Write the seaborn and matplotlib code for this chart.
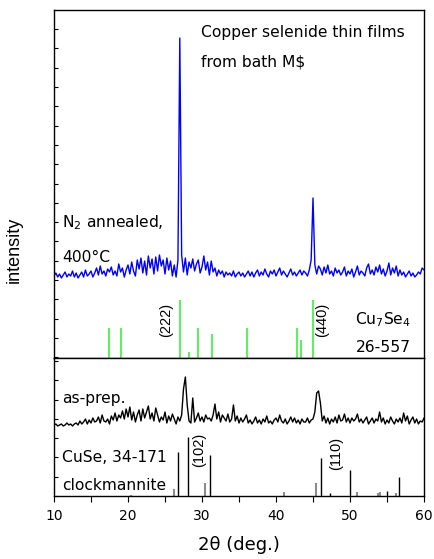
import numpy as np
import pandas as pd
import matplotlib
matplotlib.use("Agg")
import matplotlib.pyplot as plt
from matplotlib.ticker import MultipleLocator
import seaborn as sns

sns.set_style("white")
plt.rcParams['font.family'] = ['DejaVu Sans']
plt.rcParams['mathtext.fontset'] = 'dejavusans'
plt.rcParams['text.color'] = 'black'
plt.rcParams['axes.labelcolor'] = 'black'
plt.rcParams['xtick.color'] = 'black'
plt.rcParams['ytick.color'] = 'black'

# ---- data ----
two_theta = np.arange(10.0, 60.001, 0.25)

annealed = [
    4, 7, 3, 6,   2, 5, 8, 3,   6, 4, 9, 3,   7, 2, 5, 8,   3, 10, 4, 6,
    9, 3, 7, 12,  5, 14, 6, 9,  4, 11, 8, 13, 5, 9, 4, 16,  8, 12, 3, 10,
    15, 6, 18, 9, 4, 20, 11, 22, 7, 19, 5, 24, 12, 21, 6, 23, 9, 25, 14, 20,
    6, 22, 10, 19, 4, 15, 3, 20, 242, 25, 8, 22, 5, 18, 12, 21, 9, 16, 20, 7,
    13, 24, 10, 18, 5, 19, 8, 12, 4, 10, 6, 9, 3, 8, 5, 7, 4, 9, 3, 6,
    8, 4, 7, 3,   6, 9, 4, 8,   3, 7, 10, 4,  8, 5, 11, 6,  3, 9, 6, 10,
    4, 8, 12, 5,  9, 6, 3, 7,   11, 5, 8, 4,  7, 10, 5, 9,  7, 4, 10, 20,
    82, 15, 6, 14, 11, 5, 13, 7, 15, 6, 9, 4, 12, 7, 10, 5, 8, 13, 4, 9,
    6, 11, 3, 8,  14, 5, 9, 7,  4, 12, 16, 6, 10, 5, 13, 8, 15, 6, 11, 4,
    9, 17, 5, 12, 7, 14, 4, 10, 5, 8, 3, 6,  9, 4, 7, 3,   5, 8, 6, 12, 10,
]

as_prep = [
    2, 3, 1, 2,   3, 1, 2, 4,   2, 3, 1, 3,   4, 2, 6, 3,   5, 8, 3, 7,
    4, 9, 5, 6,   10, 4, 12, 6, 5, 8, 3, 11,  7, 14, 6, 12, 9, 16, 8, 18,
    10, 20, 7, 15, 5, 12, 17, 6, 18, 9, 15, 21, 8, 14, 6, 19, 12, 5, 10, 7,
    15, 4, 11, 6, 13, 8, 3, 10, 6, 12, 38, 50, 22, 6, 4, 29, 5, 9, 14, 6,
    10, 5, 12, 8, 9, 6, 12, 23, 8, 15, 5, 12, 9, 6, 13, 5, 8, 22, 6, 11,
    4, 9, 5, 8,   12, 4, 7, 3,  6, 10, 4, 7,  3, 8, 5, 11,  4, 6, 3, 7,
    9, 5, 12, 6,  4, 8, 3, 6,   10, 5, 9, 4,  7, 3, 8, 5,   5, 9, 4, 7,
    8, 15, 34, 36, 24, 6, 11, 4, 9, 3, 8, 5,  10, 4, 12, 6, 7, 13, 5, 9,
    4, 9, 6, 8,   13, 5, 8, 4,  7, 10, 3, 6,  9, 4, 8, 6,   15, 5, 9, 3,
    7, 4, 10, 6,  3, 8, 5, 9,   4, 14, 6, 11, 3, 7, 10, 4,  8, 3, 6, 5, 9,
]

cu7se4_pos = [17.47, 19.1, 27.05, 28.3, 29.4, 31.4, 36.1, 42.8, 43.4, 45.0]
cu7se4_int = [30, 30, 58, 6, 30, 24, 30, 30, 18, 58]

cuse_pos_strong = [26.7, 28.15, 31.05, 46.05, 50.0, 54.95, 56.6, 47.35]
cuse_int_strong = [44, 59, 41, 38, 26, 5, 19, 3]
cuse_pos_weak = [20.45, 26.15, 30.45, 41.07, 45.35, 50.96, 53.85, 54.05, 56.2]
cuse_int_weak = [1, 7, 13, 4, 13, 4, 3, 4, 3]

df = pd.DataFrame({"two_theta": two_theta,
                   "annealed": annealed,
                   "as_prep": as_prep})

# ---- figure ----
fig = plt.figure(figsize=(4.35, 5.59), dpi=100)
ax_top = fig.add_axes([54/435, 1-358/559, 370/435, 348/559])
ax_bot = fig.add_axes([54/435, 1-496/559, 370/435, 138/559])

TOP_BASE = -78   # stick base in top panel
BOT_TRACE = 69   # as-prep trace offset in bottom panel

sns.lineplot(x=df["two_theta"], y=df["annealed"], ax=ax_top,
             color="#0000ff", linewidth=1.0)
ax_top.vlines(cu7se4_pos, TOP_BASE, [TOP_BASE + v for v in cu7se4_int],
              color="#3cf03c", linewidth=1.2)

sns.lineplot(x=df["two_theta"], y=df["as_prep"] + BOT_TRACE, ax=ax_bot,
             color="black", linewidth=1.0)
ax_bot.vlines(cuse_pos_weak, 0, cuse_int_weak, color="#8c8c8c", linewidth=1.5)
ax_bot.vlines(cuse_pos_strong, 0, cuse_int_strong, color="black", linewidth=1.0)

for ax in (ax_top, ax_bot):
    ax.set_xlim(10, 60)
    ax.set_xlabel("")
    ax.set_ylabel("")
    for s in ax.spines.values():
        s.set_color("black")
        s.set_linewidth(1.0)
    ax.yaxis.set_major_locator(MultipleLocator(19.3))
    ax.tick_params(axis="y", direction="in", length=3, width=0.8,
                   left=True, labelleft=False)
ax_top.set_ylim(-78, 270)
ax_bot.set_ylim(0, 138)
ax_top.tick_params(axis="x", bottom=False, labelbottom=False)
ax_bot.xaxis.set_major_locator(MultipleLocator(10))
ax_bot.xaxis.set_minor_locator(MultipleLocator(5))
ax_bot.tick_params(axis="x", which="both", direction="out", length=4,
                   width=0.8, bottom=True, labelsize=10, pad=5)

fs = 11.2
rot_font = dict(family="Liberation Sans", fontsize=10.5, rotation=90,
                ha="center", va="center")
ax_top.text(29.9, 248, "Copper selenide thin films", fontsize=fs, va="center")
ax_top.text(29.9, 218, r"from bath M\$", fontsize=fs, va="center")
ax_top.text(11.1, 57, r"N$_2$ annealed,", fontsize=fs, va="center")
ax_top.text(11.1, 23, "400°C", fontsize=fs, va="center")
ax_top.text(25.2, -40, "(222)", **rot_font)
ax_top.text(46.3, -40, "(440)", **rot_font)
ax_top.text(50.65, -40, r"Cu$_7$Se$_4$", fontsize=fs, va="center")
ax_top.text(50.75, -67, "26-557", fontsize=fs, va="center")

ax_bot.text(11.1, 98, "as-prep.", fontsize=fs, va="center")
ax_bot.text(11.1, 39, "CuSe, 34-171", fontsize=fs, va="center")
ax_bot.text(11.1, 11, "clockmannite", fontsize=fs, va="center")
ax_bot.text(29.65, 46, "(102)", **rot_font)
ax_bot.text(48.1, 43, "(110)", **rot_font)

fig.text(14/435, 1-250/559, "intensity", rotation=90, fontsize=13,
         family="Liberation Sans", ha="center", va="center")
fig.text(239/435, 1-545/559, "2θ (deg.)", fontsize=13, ha="center", va="center")

fig.savefig("out.png", dpi=100)
